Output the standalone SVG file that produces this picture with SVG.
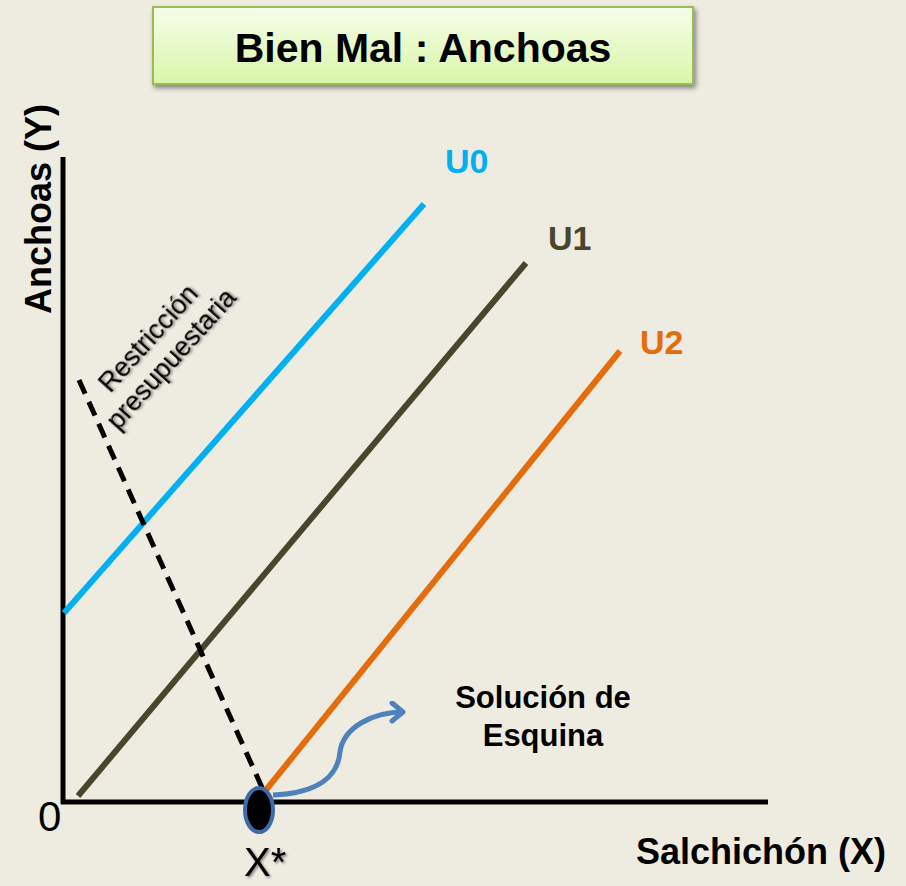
<svg xmlns="http://www.w3.org/2000/svg" width="906" height="886" viewBox="0 0 906 886">
<defs>
<linearGradient id="tg" x1="0" y1="0" x2="0" y2="1">
<stop offset="0" stop-color="#F6FEEA"/>
<stop offset="1" stop-color="#D9F5A9"/>
</linearGradient>
<filter id="sh" x="-10%" y="-20%" width="120%" height="150%">
<feDropShadow dx="2" dy="3" stdDeviation="2.5" flood-color="#000" flood-opacity="0.45"/>
</filter>
<filter id="tsh" x="-10%" y="-10%" width="130%" height="130%">
<feDropShadow dx="1.5" dy="1.5" stdDeviation="1.2" flood-color="#000" flood-opacity="0.45"/>
</filter>
<marker id="arr" markerWidth="24" markerHeight="24" refX="14" refY="11" orient="auto" markerUnits="userSpaceOnUse">
<path d="M3,2 L14,11 L3,20" fill="none" stroke="#4F81BD" stroke-width="5" stroke-linecap="round" stroke-linejoin="round"/>
</marker>
<style>
.b{font-family:"Liberation Sans",Arial,sans-serif;font-weight:bold}
.r{font-family:"Liberation Sans",Arial,sans-serif}
</style>
</defs>
<rect width="906" height="886" fill="#EEEBE1"/>
<g id="title">
<rect x="153" y="7" width="540" height="77" fill="url(#tg)" stroke="#9BBB59" stroke-width="2" filter="url(#sh)"/>
<text x="423" y="62" text-anchor="middle" class="b" font-size="41" fill="#000">Bien Mal : Anchoas</text>
</g>
<g id="axes" stroke="#000" stroke-width="5" fill="none">
<line x1="63" y1="157" x2="63" y2="804"/>
<line x1="61" y1="802" x2="768" y2="802"/>
</g>
<g id="connectors" fill="none" stroke-width="6">
<line id="U0line" x1="64" y1="613" x2="424" y2="204" stroke="#00B0F0"/>
<line id="U1line" x1="78" y1="796" x2="526" y2="263" stroke="#4A452D"/>
<line id="U2line" x1="266" y1="790" x2="620" y2="351" stroke="#E46C0A"/>
<line id="restriccion" x1="79" y1="380" x2="264" y2="792" stroke="#000" stroke-width="5" stroke-dasharray="15,9"/>
<path id="arrow" d="M273,795 C320,793 338,775 340,752 C343,728 372,712 403,712" stroke="#4F81BD" stroke-width="5" marker-end="url(#arr)"/>
</g>
<g id="xstar-point">
<ellipse cx="259" cy="810" rx="14" ry="22" fill="#000" stroke="#3E6AA8" stroke-width="4"/>
</g>
<g id="labels">
<text x="445" y="173" class="b" font-size="34" fill="#00B0F0">U0</text>
<text x="548" y="250" class="b" font-size="34" fill="#4A452D">U1</text>
<text x="640" y="354" class="b" font-size="34" fill="#E46C0A">U2</text>
<text class="b" font-size="31" fill="#000" text-anchor="middle"><tspan x="543" y="708">Solución de</tspan><tspan x="543" y="746">Esquina</tspan></text>
<text x="636" y="864" class="b" font-size="36" fill="#000">Salchichón (X)</text>
<text x="244" y="876" class="r" font-size="40" fill="#000" filter="url(#tsh)">X*</text>
<text x="38" y="831" class="r" font-size="42" fill="#000">0</text>
<text transform="translate(51,209) rotate(-90)" text-anchor="middle" class="b" font-size="36" fill="#000">Anchoas (Y)</text>
<text transform="translate(160,349) rotate(-48)" text-anchor="middle" class="r" font-size="27" fill="#000" filter="url(#tsh)"><tspan x="0" y="-7">Restricción</tspan><tspan x="0" y="24">presupuestaria</tspan></text>
</g>
</svg>
